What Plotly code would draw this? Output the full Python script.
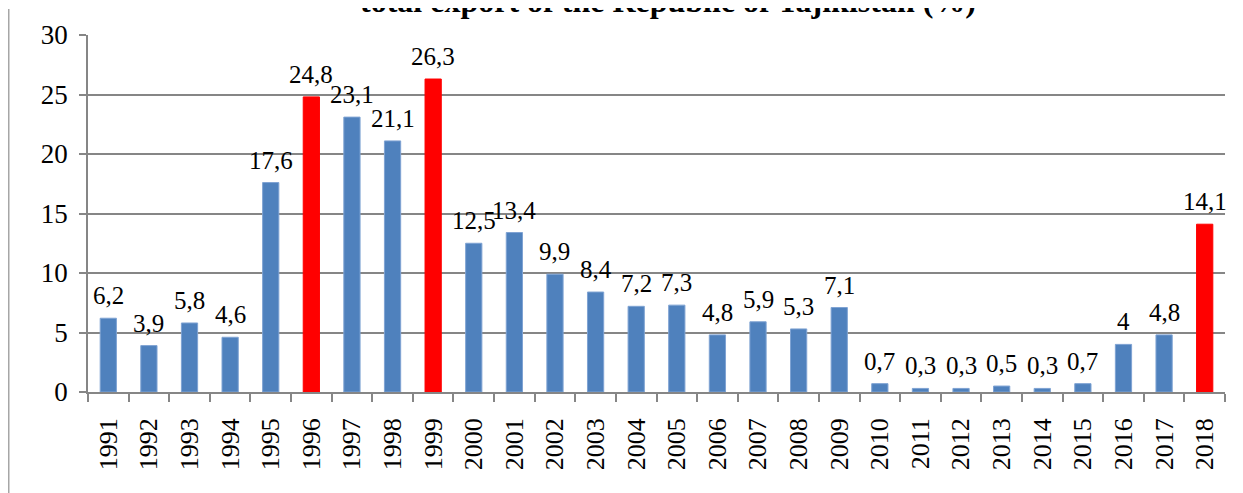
import plotly.graph_objects as go

years = [str(y) for y in range(1991, 2019)]
values = [6.2, 3.9, 5.8, 4.6, 17.6, 24.8, 23.1, 21.1, 26.3, 12.5, 13.4, 9.9, 8.4, 7.2,
          7.3, 4.8, 5.9, 5.3, 7.1, 0.7, 0.3, 0.3, 0.5, 0.3, 0.7, 4.0, 4.8, 14.1]
highlight_years = ["1996", "1999", "2018"]
title_text = "total export of the Republic of Tajikistan (%)"

BLUE = "#4F81BD"
RED = "#FF0000"
FONT = "Liberation Serif, Times New Roman, serif"


def fmt(v):
    return str(int(v)) if float(v).is_integer() else str(v).replace(".", ",")


colors = [RED if y in highlight_years else BLUE for y in years]
labels = [fmt(v) for v in values]

fig = go.Figure()
fig.add_trace(go.Bar(
    x=years, y=values,
    marker=dict(color=colors,
                line=dict(color=["#FF0000" if c == RED else "#7FA3D3" for c in colors], width=1)),
    hoverinfo="x+y",
))

# data labels, positioned by category index on the category axis
for i, (y, t) in enumerate(zip(values, labels)):
    fig.add_annotation(x=i, y=y, text=t, showarrow=False, xref="x", yref="y",
                       yanchor="bottom", yshift=7,
                       font=dict(family=FONT, size=25, color="black"))

fig.add_annotation(text="<b>" + title_text + "</b>", xref="paper", yref="paper",
                   x=0.51, y=1.040, yanchor="bottom", xanchor="center", showarrow=False,
                   font=dict(family=FONT, size=32, color="black"))

# left page border line
fig.add_shape(type="line", xref="paper", yref="paper",
              x0=-0.0697, x1=-0.0697, y0=-0.3, y1=1.073,
              line=dict(color="#A6A6A6", width=1.5))

fig.update_layout(
    width=1235, height=485,
    margin=dict(l=80, r=18, t=27, b=101),
    paper_bgcolor="white", plot_bgcolor="white",
    bargap=0.6,
    showlegend=False,
    font=dict(family=FONT, size=26, color="black"),
)
fig.update_xaxes(
    type="category", range=[-0.5, len(years) - 0.5],
    tickangle=-90, tickson="boundaries",
    ticks="outside", ticklen=8, tickcolor="#868686", tickwidth=1.5,
    showline=True, linecolor="#868686", linewidth=1.5,
    ticklabelstandoff=14,
    tickfont=dict(family=FONT, size=26, color="black"),
    showgrid=False,
)
fig.update_yaxes(
    range=[0, 30], dtick=5, tick0=0,
    ticks="outside", ticklen=7, tickcolor="#868686", tickwidth=1.5,
    showline=True, linecolor="#868686", linewidth=1.5,
    showgrid=True, gridcolor="#868686", gridwidth=1.5,
    zeroline=False, ticklabelstandoff=6,
    tickfont=dict(family=FONT, size=27, color="black"),
)

fig.write_html("out.html")
